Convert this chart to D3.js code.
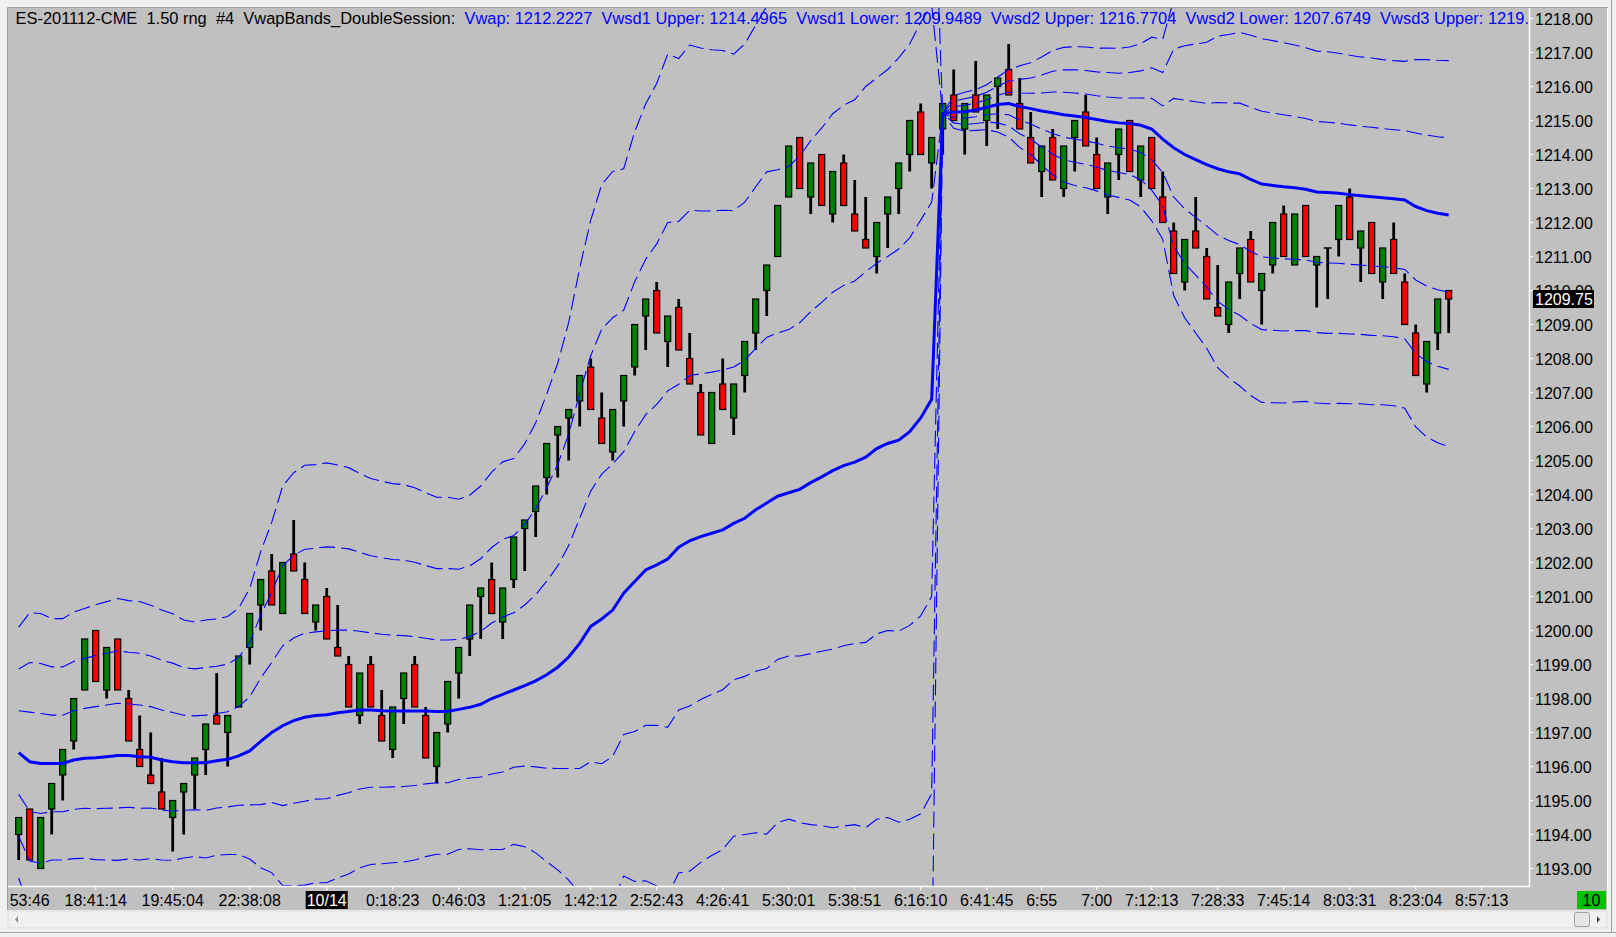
<!DOCTYPE html>
<html><head><meta charset="utf-8">
<script src="https://cdn.jsdelivr.net/npm/d3@7"></script>
<style>
html,body{margin:0;padding:0;background:#f0f0f0;overflow:hidden}
svg{display:block;font-family:"Liberation Sans",Arial,sans-serif}
</style>
</head><body>
<svg id="c" width="1616" height="937"></svg>
<script>
// ---------- data ----------
const openP = [1194,1194.75,1193,1194.75,1195.75,1196.75,1198.25,1200,1198.25,1199.75,
1198,1196.5,1195.75,1195.25,1194.5,1195.25,1195.75,1196.5,1197.5,1197,
1197.75,1199.5,1200.75,1201.75,1200.5,1202.25,1201.5,1200.25,1201,1199.5,
1199,1197.5,1199,1197.5,1196.5,1198,1199,1197.5,1196,1197.25,
1198.75,1199.75,1201,1201.5,1200.25,1201.5,1203,1203.5,1204.5,1205.75,
1206.25,1206.75,1207.75,1206.25,1205.25,1206.75,1207.75,1209.25,1210,1208.5,
1209.5,1208,1207,1205.5,1207.25,1206.25,1207.5,1208.75,1210,1211,
1212.75,1214.5,1212.75,1214,1212.25,1213.75,1212.25,1211.5,1211,1212.25,
1213,1214,1215.25,1213.75,1214.75,1215.75,1214.75,1215.75,1215,1216,
1216.5,1215.5,1214.5,1213.5,1214.5,1213,1214.5,1215.25,1214,1212.75,
1214,1215,1213.25,1214.5,1212.75,1211.75,1210.25,1211.75,1211,1209.5,
1209,1210.5,1211.5,1210,1210.75,1212.25,1210.75,1212.5,1210.75,1211.25,
1211.5,1212.75,1211.25,1212,1210.25,1211.5,1210.25,1208.75,1207.25,1208.75,
1210];
const highP = [1194.5,1194.75,1194.5,1195.5,1196.5,1198,1199.75,1200,1199.5,1199.75,
1198.25,1197.5,1197,1196.25,1195,1195.5,1196.25,1197.25,1198.75,1197.5,
1199.25,1200.5,1201.5,1202.25,1202,1203.25,1202,1200.75,1201.25,1200.75,
1199.25,1198.75,1199.25,1198.25,1197.75,1198.75,1199.25,1197.75,1197,1198.5,
1199.5,1200.75,1201.25,1202,1201.25,1202.75,1203.25,1204.25,1205.5,1206,
1206.5,1207.5,1208,1207,1206.5,1207.5,1209,1209.75,1210.25,1209.25,
1209.75,1208.75,1207.25,1207,1208,1207.25,1208.5,1209.75,1210.75,1212.5,
1214.25,1214.5,1213.75,1214,1213.5,1214,1213.25,1212.75,1212,1212.75,
1213.75,1215,1215.5,1214.5,1215.5,1216.5,1215.5,1216.75,1215.75,1216.25,
1217.25,1216.25,1215.25,1214.25,1214.75,1214.25,1215,1215.75,1214.5,1213.75,
1214.75,1215,1214.25,1214.5,1213.5,1212,1211.5,1212.75,1211.25,1210.75,
1210.25,1211.25,1211.75,1210.5,1212,1212.5,1212.25,1212.5,1211,1211.25,
1212.5,1213,1211.75,1212,1211.25,1212,1210.5,1209,1208.5,1209.75,
1210];
const lowP = [1193.25,1193.25,1193,1194,1195,1196.5,1198.25,1198.5,1198,1198.25,
1196.75,1196,1195.5,1194.75,1193.5,1194,1194.75,1195.75,1197.25,1196,
1197.75,1199,1200,1200.75,1200.5,1201.75,1200.5,1200,1199.75,1199.25,
1197.75,1197.25,1197.75,1196.75,1196.25,1197.25,1197.75,1196.25,1195.5,1197,
1198,1199.25,1199.75,1200.5,1199.75,1201.25,1201.75,1202.75,1204,1204.5,
1205,1206,1206.5,1205.5,1205,1206,1207.5,1208.25,1208.75,1207.75,
1208.25,1207.25,1205.75,1205.5,1206.5,1205.75,1207,1208.25,1209.25,1211,
1212.75,1213,1212.25,1212.5,1212,1212.5,1211.75,1211.25,1210.5,1211.25,
1212.25,1213.5,1214,1213,1214,1215,1214,1215.25,1214.25,1214.75,
1215.75,1214.75,1213.75,1212.75,1213.25,1212.75,1213.5,1214.25,1213,1212.25,
1213.25,1213.5,1212.75,1213,1212,1210.5,1210,1211.25,1209.75,1209.25,
1208.75,1209.75,1210.25,1209,1210.5,1211,1210.75,1211,1209.5,1209.75,
1211,1211.5,1210.25,1210.5,1209.75,1210.5,1209,1207.5,1207,1208.25,
1208.75];
const closeP = [1194.5,1193.25,1194.5,1195.5,1196.5,1198,1199.75,1198.5,1199.5,1198.25,
1196.75,1196,1195.5,1194.75,1195,1195.5,1196.25,1197.25,1197.25,1197.5,
1199.25,1200.5,1201.5,1200.75,1202,1201.75,1200.5,1200.75,1199.75,1199.25,
1197.75,1198.75,1197.75,1196.75,1197.75,1198.75,1197.75,1196.25,1197,1198.5,
1199.5,1200.75,1201.25,1200.5,1201.25,1202.75,1203.25,1204.25,1205.5,1206,
1206.5,1207.5,1206.5,1205.5,1206.5,1207.5,1209,1209.75,1208.75,1209.25,
1208.25,1207.25,1205.75,1207,1206.5,1207.25,1208.5,1209.75,1210.75,1212.5,
1214.25,1213,1213.75,1212.5,1213.5,1212.5,1211.75,1211.25,1212,1212.75,
1213.75,1215,1214,1214.5,1215.5,1215,1215.5,1215.25,1215.75,1216.25,
1215.75,1214.75,1213.75,1214.25,1213.25,1214.25,1215,1214.25,1213,1213.75,
1214.75,1213.5,1214.25,1213,1212,1210.5,1211.5,1211.25,1209.75,1209.25,
1210.25,1211.25,1210.25,1210.5,1212,1211,1212.25,1211,1211,1211.25,
1212.5,1211.5,1211.75,1210.5,1211.25,1210.5,1209,1207.5,1208.5,1209.75,
1209.75];
const vwap = [1196.41,1196.14,1196.09,1196.09,1196.09,1196.19,1196.24,1196.26,1196.29,1196.32,
1196.32,1196.29,1196.27,1196.19,1196.14,1196.11,1196.11,1196.11,1196.17,1196.21,
1196.31,1196.46,1196.74,1197.0,1197.2,1197.35,1197.45,1197.5,1197.52,1197.58,
1197.62,1197.66,1197.66,1197.64,1197.63,1197.63,1197.63,1197.63,1197.62,1197.62,
1197.68,1197.74,1197.83,1198.0,1198.12,1198.25,1198.38,1198.52,1198.7,1198.92,
1199.22,1199.62,1200.12,1200.34,1200.6,1201.1,1201.44,1201.78,1201.93,1202.1,
1202.45,1202.64,1202.76,1202.86,1202.96,1203.15,1203.3,1203.55,1203.75,1203.95,
1204.05,1204.15,1204.35,1204.52,1204.7,1204.85,1204.95,1205.1,1205.35,1205.5,
1205.6,1205.85,1206.25,1206.8,1215.2,1215.25,1215.26,1215.31,1215.39,1215.47,
1215.5,1215.41,1215.35,1215.28,1215.23,1215.17,1215.13,1215.09,1215.03,1214.97,
1214.93,1214.91,1214.86,1214.75,1214.45,1214.2,1214.0,1213.85,1213.7,1213.58,
1213.49,1213.43,1213.27,1213.13,1213.09,1213.05,1213.02,1212.98,1212.9,1212.88,
1212.86,1212.82,1212.79,1212.76,1212.73,1212.7,1212.66,1212.47,1212.35,1212.27,
1212.22];
const vwsd = [1.23,1.46,1.47,1.42,1.42,1.45,1.47,1.5,1.52,1.54,
1.52,1.52,1.49,1.47,1.45,1.4,1.38,1.4,1.39,1.4,
1.45,1.59,1.86,2.06,2.35,2.43,2.47,2.46,2.47,2.43,
2.39,2.32,2.27,2.25,2.23,2.22,2.19,2.14,2.1,2.1,
2.06,2.08,2.14,2.22,2.28,2.27,2.37,2.53,2.75,2.98,
3.28,3.68,3.98,4.26,4.3,4.16,4.41,4.57,4.72,4.95,
4.79,4.86,4.79,4.74,4.7,4.6,4.65,4.75,4.87,4.8,
4.8,4.9,5.03,5.13,5.25,5.3,5.33,5.45,5.45,5.5,
5.62,5.7,5.82,5.8,0,0.16,0.19,0.2,0.22,0.27,
0.33,0.4,0.45,0.53,0.61,0.66,0.68,0.69,0.7,0.72,
0.73,0.75,0.8,0.9,0.98,1.45,1.6,1.7,1.8,1.95,
2.02,2.08,2.12,2.14,2.13,2.12,2.1,2.08,2.07,2.07,
2.06,2.05,2.04,2.04,2.03,2.03,2.04,2.16,2.22,2.25,
2.27];
const bandMultipliers = [1, 2, 3];
const priceTicks = [1218,1217,1216,1215,1214,1213,1212,1211,1210,1209,1208,1207,1206,1205,1204,1203,1202,1201,1200,1199,1198,1197,1196,1195,1194,1193];
const lastPrice = 1209.75;
const timeLabels = ["53:46","18:41:14","19:45:04","22:38:08","10/14","0:18:23","0:46:03","1:21:05","1:42:12","2:52:43","4:26:41","5:30:01","5:38:51","6:16:10","6:41:45","6:55","7:00","7:12:13","7:28:33","7:45:14","8:03:31","8:23:04","8:57:13"];
const timeBars = [1,7,14,21,28,34,40,46,52,58,64,70,76,82,88,93,98,103,109,115,121,127,133];
const headerBlack = "ES-201112-CME  1.50 rng  #4  VwapBands_DoubleSession:  ";
const headerBlue = ["Vwap: 1212.2227","Vwsd1 Upper: 1214.4965","Vwsd1 Lower: 1209.9489","Vwsd2 Upper: 1216.7704","Vwsd2 Lower: 1207.6749","Vwsd3 Upper: 1219."];
const barsLabel = "10";

// ---------- layout ----------
const W = 1616, H = 937;
const plot = {x0: 8, y0: 8, x1: 1529.5, y1: 886.5};
const svg = d3.select("#c");

const x = d3.scaleLinear().domain([0, 130]).range([18.7, 1448.7]);
const y = d3.scaleLinear().domain([1193, 1218]).range([868.5, 18.5]);

// frame
svg.append("rect").attr("x",0).attr("y",0).attr("width",W).attr("height",H).attr("fill","#f0f0f0");
svg.append("rect").attr("x",8).attr("y",8).attr("width",1599).attr("height",902).attr("fill","#c0c0c0");
svg.append("path").attr("d","M7.5,910 V7.5 H1608").attr("fill","none").attr("stroke","#a0a0a0");
svg.append("line").attr("x1",1607.5).attr("x2",1607.5).attr("y1",8).attr("y2",910).attr("stroke","#ffffff");
svg.append("line").attr("x1",0).attr("x2",W).attr("y1",932.5).attr("y2",932.5).attr("stroke","#a0a0a0");
svg.append("line").attr("x1",1611.5).attr("x2",1611.5).attr("y1",0).attr("y2",933).attr("stroke","#a0a0a0");

// clips
const defs = svg.append("defs");
defs.append("clipPath").attr("id","pc").append("rect")
  .attr("x",plot.x0).attr("y",plot.y0).attr("width",plot.x1-plot.x0).attr("height",plot.y1-plot.y0);
defs.append("clipPath").attr("id","hc").append("rect")
  .attr("x",plot.x0).attr("y",plot.y0).attr("width",1528-plot.x0).attr("height",40);

const g = svg.append("g").attr("clip-path","url(#pc)");

// candles
const idx = d3.range(openP.length);
const cg = g.append("g");
cg.selectAll("line.wick").data(idx).join("line").attr("class","wick")
  .attr("x1",i=>x(i)).attr("x2",i=>x(i))
  .attr("y1",i=>y(highP[i])).attr("y2",i=>y(lowP[i]))
  .attr("stroke","#000").attr("stroke-width",2.8);
cg.selectAll("rect.body").data(idx.filter(i=>openP[i]!==closeP[i])).join("rect").attr("class","body")
  .attr("x",i=>x(i)-3).attr("width",6)
  .attr("y",i=>y(Math.max(openP[i],closeP[i])))
  .attr("height",i=>Math.abs(y(openP[i])-y(closeP[i])))
  .attr("fill",i=>closeP[i]>openP[i]?"#008000":"#ff0000")
  .attr("stroke","#000").attr("stroke-width",1.2);
cg.selectAll("line.doji").data(idx.filter(i=>openP[i]===closeP[i])).join("line").attr("class","doji")
  .attr("x1",i=>x(i)-4).attr("x2",i=>x(i)+4)
  .attr("y1",i=>y(openP[i])).attr("y2",i=>y(openP[i]))
  .attr("stroke","#000").attr("stroke-width",1.5);

// bands
const lineGen = d3.line().x((d,i)=>x(i)).y(d=>y(d));
bandMultipliers.forEach(k=>{
  const up = vwap.map((v,i)=>v + k*vwsd[i]);
  const lo = vwap.map((v,i)=>v - k*vwsd[i]);
  [up, lo].forEach(arr=>{
    g.append("path").datum(arr).attr("d",lineGen)
      .attr("fill","none").attr("stroke","#0000ff").attr("stroke-width",1.1)
      .attr("stroke-dasharray","16,6");
  });
});
g.append("path").datum(vwap).attr("d",lineGen)
  .attr("fill","none").attr("stroke","#0000ff").attr("stroke-width",3);

// plot border (white)
svg.append("path").attr("d",`M${plot.x0},${plot.y1} H${plot.x1} V${plot.y0}`)
  .attr("fill","none").attr("stroke","#ffffff").attr("stroke-width",1.5);

// header
const ht = svg.append("g").attr("clip-path","url(#hc)").append("text")
  .attr("x",15.5).attr("y",24).attr("font-size",16.45).style("white-space","pre");
ht.append("tspan").attr("fill","#000").text(headerBlack);
ht.append("tspan").attr("fill","#0000ff").text(headerBlue.join("  "));

// price axis
const pa = svg.append("g");
pa.selectAll("line").data(priceTicks).join("line")
  .attr("x1",1529.5).attr("x2",1533).attr("y1",d=>y(d)).attr("y2",d=>y(d))
  .attr("stroke","#fff").attr("stroke-width",1.2);
pa.selectAll("text").data(priceTicks).join("text")
  .attr("x",1535).attr("y",d=>y(d)+6).attr("font-size",16).attr("fill","#000")
  .text(d=>d.toFixed(2));
pa.append("rect").attr("x",1533).attr("y",y(lastPrice)-9).attr("width",61).attr("height",18).attr("fill","#000");
pa.append("text").attr("x",1535).attr("y",y(lastPrice)+6).attr("font-size",16).attr("fill","#fff").text(lastPrice.toFixed(2));

// time axis
const ta = svg.append("g");
ta.selectAll("line").data(timeBars.slice(1)).join("line")
  .attr("x1",d=>x(d)).attr("x2",d=>x(d)).attr("y1",886.5).attr("y2",890)
  .attr("stroke","#fff").attr("stroke-width",1.2);
timeLabels.forEach((t,j)=>{
  const cx = x(timeBars[j]);
  if (t.indexOf("/")>=0){
    ta.append("rect").attr("x",cx-21).attr("y",891).attr("width",42).attr("height",18).attr("fill","#000");
    ta.append("text").attr("x",cx).attr("y",906).attr("text-anchor","middle").attr("font-size",16).attr("fill","#fff").text(t);
  } else {
    ta.append("text").attr("x",cx).attr("y",906).attr("text-anchor","middle").attr("font-size",16).attr("fill","#000").text(t);
  }
});
ta.append("rect").attr("x",1577).attr("y",891).attr("width",29).attr("height",18).attr("fill","#00c000");
ta.append("text").attr("x",1591.5).attr("y",906).attr("text-anchor","middle").attr("font-size",16).attr("fill","#000").text(barsLabel);

// scrollbar
const sb = svg.append("g");
sb.append("rect").attr("x",8).attr("y",911).attr("width",1599).attr("height",17).attr("fill","#f0f0f0").attr("stroke","#dcdcdc");
sb.append("rect").attr("x",1574.5).attr("y",912.5).attr("width",15).attr("height",14).attr("rx",2)
  .attr("fill","#e6e6e6").attr("stroke","#a0a0a0");
sb.append("path").attr("d","M1597,916 L1600,919.5 L1597,923 Z").attr("fill","#404040");
sb.append("path").attr("d","M18,916 L15,919.5 L18,923 Z").attr("fill","#909090");
</script>
</body></html>
